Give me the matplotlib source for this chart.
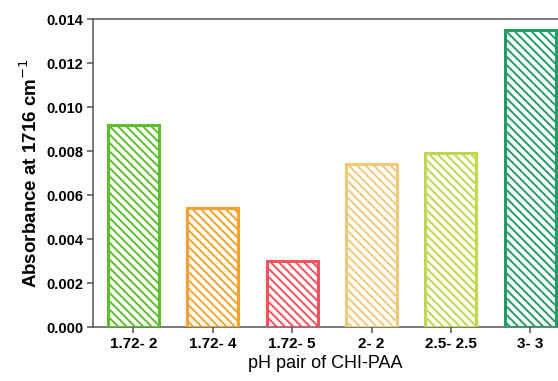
import matplotlib
matplotlib.use("Agg")
import matplotlib.pyplot as plt

# absorbance of the carboxylic band for each CHI/PAA pH pair
ph_pairs = ["1.72- 2", "1.72- 4", "1.72- 5", "2- 2", "2.5- 2.5", "3- 3"]
absorbance = [0.0092, 0.0054, 0.0030, 0.0074, 0.0079, 0.0135]
bar_colors = ["#5cbf2a", "#f7a12e", "#f7515e", "#f2c97a", "#bfd84e", "#1f9e5f"]

plt.rcParams["font.family"] = ["Liberation Sans", "DejaVu Sans"]
plt.rcParams["hatch.linewidth"] = 1.4

fig = plt.figure(figsize=(5.58, 3.81), dpi=100)
ax = fig.add_axes([0.1667, 0.1417, 0.8333, 0.8083])

x = range(len(ph_pairs))
for i, (val, col) in enumerate(zip(absorbance, bar_colors)):
    ax.bar(i, val, width=0.64, facecolor="white", edgecolor=col,
           hatch="\\\\\\\\", linewidth=2.2, zorder=3)

ax.set_xlim(-0.51, 5.35)
ax.set_ylim(0, 0.014)
ax.set_yticks([0.000, 0.002, 0.004, 0.006, 0.008, 0.010, 0.012, 0.014])
ax.set_yticklabels(["%.3f" % v for v in ax.get_yticks()],
                   fontsize=10.5, fontweight="bold")
ax.set_xticks(list(x))
ax.set_xticklabels(ph_pairs, fontsize=11, fontweight="bold")

for side in ("left", "top", "bottom"):
    ax.spines[side].set_color("#555555")
    ax.spines[side].set_linewidth(1.1)
ax.spines["right"].set_visible(False)
ax.tick_params(axis="both", colors="#555555", length=4, width=1.1,
               labelcolor="black", pad=3)

ax.set_ylabel("Absorbance at 1716 cm$^{-1}$", fontsize=13.5, fontweight="bold",
              labelpad=4)
ax.set_xlabel("pH pair of CHI-PAA", fontsize=13, labelpad=3)

fig.savefig("out.png", dpi=100)
